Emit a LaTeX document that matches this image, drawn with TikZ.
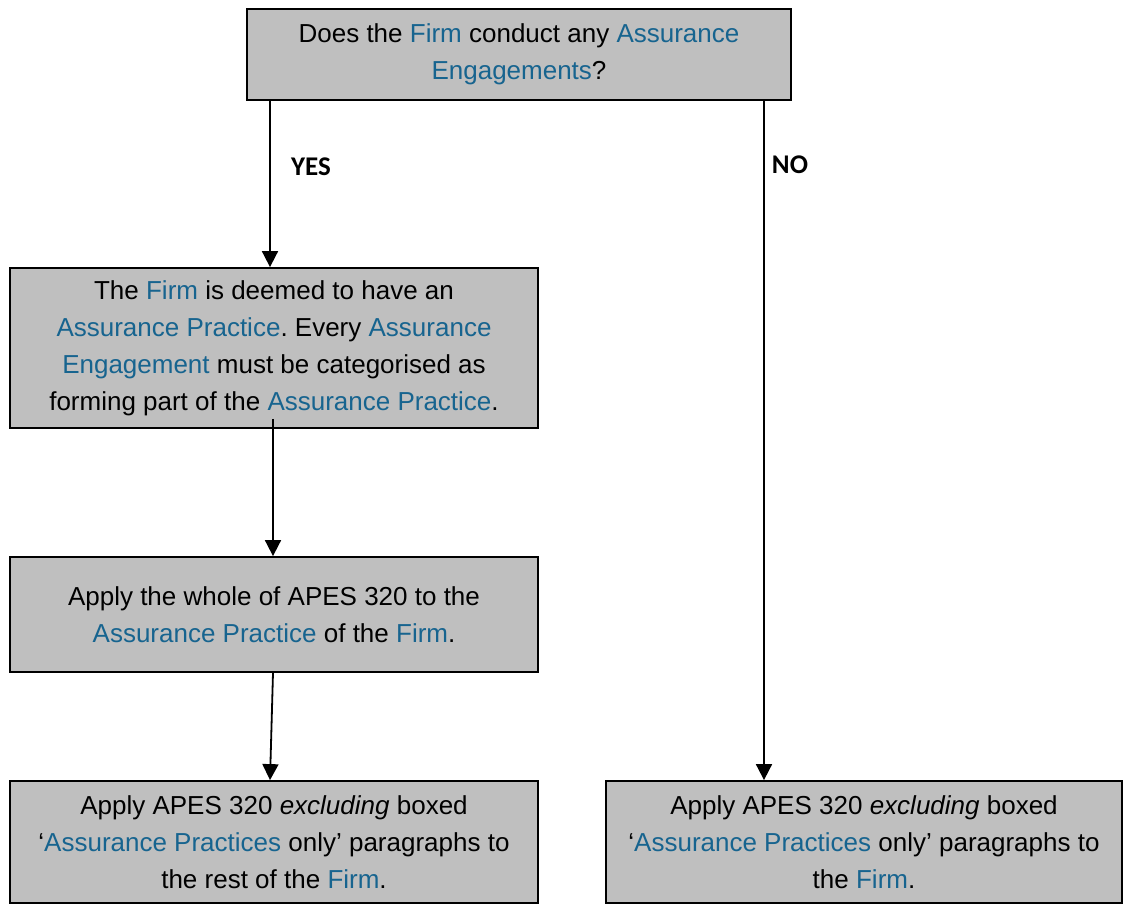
\documentclass[tikz,border=0pt]{standalone}
\usepackage{fontspec}
\usepackage{xcolor}
\usepackage{tikz}
\usetikzlibrary{arrows.meta, positioning}
\setmainfont{Liberation Sans}
\newfontfamily\answerfont{Carlito}
\definecolor{termblue}{HTML}{17648F}
\definecolor{boxgray}{HTML}{BFBFBF}
\newcommand{\term}[1]{\textcolor{termblue}{#1}}
\frenchspacing

\begin{document}
\begin{tikzpicture}[
    x=0.5pt, y=-0.5pt,
    flowbox/.style = {rectangle, draw=black, line width=0.9pt, fill=boxgray, align=center, inner sep=0pt,
                      font=\fontsize{13}{18.5}\selectfont},
    answer/.style  = {font=\answerfont\bfseries\fontsize{13.5}{16}\selectfont, inner sep=0pt},
    arr/.style     = {-{Triangle[width=8pt,length=8pt]}, line width=0.9pt}
]
\useasboundingbox (0,0) rectangle (1124,904);

\node [flowbox, minimum width=272pt, minimum height=45.5pt] (q) at (519, 54.5)
    {Does the \term{Firm} conduct any \term{Assurance}\\ \term{Engagements}?};

\node [flowbox, minimum width=264pt, minimum height=80pt] (deemed) at (274, 348)
    {The \term{Firm} is deemed to have an\\
     \term{Assurance Practice}. Every \term{Assurance}\\
     \term{Engagement} must be categorised as\\
     forming part of the \term{Assurance Practice}.};

\node [flowbox, minimum width=264pt, minimum height=57.5pt] (whole) at (274, 614.5)
    {Apply the whole of APES 320 to the\\ \term{Assurance Practice} of the \term{Firm}.};

\node [flowbox, minimum width=264pt, minimum height=61pt] (restyes) at (274, 842)
    {Apply APES 320 \textit{excluding} boxed\\
     `\term{Assurance Practices} only' paragraphs to\\
     the rest of the \term{Firm}.};

\node [flowbox, minimum width=258pt, minimum height=61pt] (restno) at (864, 842)
    {Apply APES 320 \textit{excluding} boxed\\
     `\term{Assurance Practices} only' paragraphs to\\
     the \term{Firm}.};

\node [answer] (yes) at (311, 167) {YES};
\node [answer] (no) at (790, 165) {NO};

\draw[arr] (q.south -| 270,0) -- (deemed.north -| 270,0);
\draw[arr] (q.south -| 764,0) -- (restno.north -| 764,0);
\draw[arr] ([yshift=5pt]deemed.south -| 273,0) -- (whole.north -| 273,0);
\draw[arr] (whole.south -| 273,0) -- (restyes.north -| 270,0);

\end{tikzpicture}
\end{document}
